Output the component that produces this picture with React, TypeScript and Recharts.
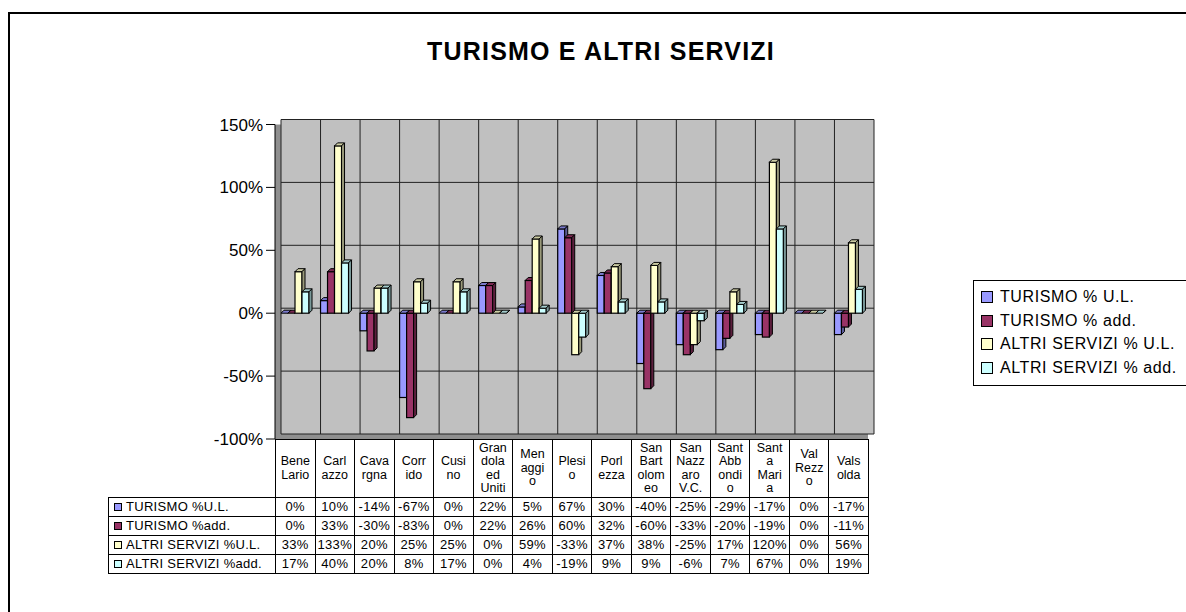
import { BarChart, Bar, XAxis, YAxis, CartesianGrid } from 'recharts';

const categories = [
  'Bene Lario', 'Carlazzo', 'Cavargna', 'Corrido', 'Cusino', 'Grandola ed Uniti', 'Menaggio', 'Plesio',
  'Porlezza', 'San Bartolomeo', 'San Nazzaro V.C.', 'Sant Abbondio', 'Santa Maria', 'Val Rezzo', 'Valsolda',
];
// category names as Excel wraps them in the data table header
const headerLines = [
  ['Bene', 'Lario'], ['Carl', 'azzo'], ['Cava', 'rgna'], ['Corr', 'ido'], ['Cusi', 'no'],
  ['Gran', 'dola', 'ed', 'Uniti'], ['Men', 'aggi', 'o'], ['Plesi', 'o'], ['Porl', 'ezza'],
  ['San', 'Bart', 'olom', 'eo'], ['San', 'Nazz', 'aro', 'V.C.'], ['Sant', 'Abb', 'ondi', 'o'],
  ['Sant', 'a', 'Mari', 'a'], ['Val', 'Rezz', 'o'], ['Vals', 'olda'],
];

const turismoUL = [0, 10, -14, -67, 0, 22, 5, 67, 30, -40, -25, -29, -17, 0, -17];
const turismoAdd = [0, 33, -30, -83, 0, 22, 26, 60, 32, -60, -33, -20, -19, 0, -11];
const altriUL = [33, 133, 20, 25, 25, 0, 59, -33, 37, 38, -25, 17, 120, 0, 56];
const altriAdd = [17, 40, 20, 8, 17, 0, 4, -19, 9, 9, -6, 7, 67, 0, 19];

const legendNames = ['TURISMO % U.L.', 'TURISMO % add.', 'ALTRI SERVIZI % U.L.', 'ALTRI SERVIZI % add.'];
const tableNames = ['TURISMO %U.L.', 'TURISMO %add.', 'ALTRI SERVIZI %U.L.', 'ALTRI SERVIZI %add.'];
const seriesKeys = ['tUL', 'tAdd', 'aUL', 'aAdd'];
const seriesValues = [turismoUL, turismoAdd, altriUL, altriAdd];
const colors = ['#9999FF', '#993366', '#FFFFCC', '#CCFFFF'];

const yTicks = [-100, -50, 0, 50, 100, 150];

const data = categories.map((name, i) => ({
  name,
  tUL: turismoUL[i],
  tAdd: turismoAdd[i],
  aUL: altriUL[i],
  aAdd: altriAdd[i],
}));

const font = "Arial, 'Liberation Sans', sans-serif";
const W = 1186;
const H = 612;
const plotLeft = 275;
const plotRight = 868;
const plotTop = 124.5;
const plotBottom = 439;
const depthX = 6;
const depthY = 5;
const colW = (plotRight - plotLeft) / categories.length;
const headH = 57;
const rowH = 19;

const shade = (hex: string, k: number) => {
  const n = parseInt(hex.slice(1), 16);
  const r = Math.round(((n >> 16) & 255) * k);
  const g = Math.round(((n >> 8) & 255) * k);
  const b = Math.round((n & 255) * k);
  return `rgb(${r},${g},${b})`;
};

const Bar3D = (props: any) => {
  const { x, y, width, height, fill } = props;
  if (x == null || y == null) return null;
  const d = 3;
  const top = height < 0 ? y + height : y;
  const h = Math.abs(height || 0);
  return (
    <g>
      <rect x={x} y={top} width={width} height={h} fill={fill} stroke="#000" strokeWidth={1.2} />
      <polygon
        points={`${x},${top} ${x + d},${top - d} ${x + width + d},${top - d} ${x + width},${top}`}
        fill={shade(fill, 0.8)} stroke="#000" strokeWidth={1}
      />
      <polygon
        points={`${x + width},${top} ${x + width + d},${top - d} ${x + width + d},${top + h - d} ${x + width},${top + h}`}
        fill={shade(fill, 0.6)} stroke="#000" strokeWidth={1}
      />
    </g>
  );
};

const yPos = (t: number) => plotTop + ((150 - t) / 250) * (plotBottom - plotTop);
const wallH = yTicks.map(t => yPos(t) - depthY);
const wallV = categories.map((_, i) => plotLeft + i * colW + depthX).concat(plotRight + depthX);

const cell = {
  border: '1px solid #000', padding: 0, textAlign: 'center' as const, fontSize: 13,
  letterSpacing: 0.3, whiteSpace: 'nowrap' as const, lineHeight: `${rowH - 1}px`,
};

export default function App() {
  return (
    <div style={{ position: 'absolute', left: 0, top: 0, width: W, height: H, background: '#fff', fontFamily: font, overflow: 'hidden' }}>
      <div style={{ position: 'absolute', left: 8, top: 12, width: W, height: H, border: '2px solid #000' }} />
      <div style={{ position: 'absolute', left: 0, width: 1202, top: 36, textAlign: 'center', fontSize: 25, letterSpacing: 1.2, fontWeight: 'bold', lineHeight: '30px' }}>
        TURISMO E ALTRI SERVIZI
      </div>

      <div style={{ position: 'absolute', left: 0, top: 0 }}>
        <BarChart
          width={W}
          height={H}
          data={data}
          margin={{ top: plotTop, bottom: H - plotBottom, left: plotLeft - 80, right: W - plotRight }}
          barGap={0}
          barSize={7}
        >
          <CartesianGrid horizontal={false} vertical={false} fill="#8f8f8f" stroke="none" />
          <CartesianGrid
            x={plotLeft + depthX}
            y={plotTop - depthY}
            width={plotRight - plotLeft}
            height={plotBottom - plotTop}
            fill="#C0C0C0"
            stroke="#222"
            horizontalPoints={wallH}
            verticalPoints={wallV}
          />
          <XAxis dataKey="name" hide />
          <YAxis
            width={80}
            domain={[-100, 150]}
            ticks={yTicks}
            interval={0}
            tickFormatter={(v: number) => `${v}%`}
            tick={{ fontSize: 17, fill: '#000', fontFamily: font }}
            tickSize={9}
            tickMargin={3}
            axisLine={{ stroke: '#000' }}
            tickLine={{ stroke: '#000' }}
          />
          {seriesKeys.map((k, i) => (
            <Bar key={k} dataKey={k} fill={colors[i]} shape={Bar3D} isAnimationActive={false} />
          ))}
        </BarChart>
      </div>

      {/* data table under the plot */}
      <table
        style={{
          position: 'absolute', left: 108, top: plotBottom, borderCollapse: 'collapse', tableLayout: 'fixed',
          width: plotRight - 108, fontFamily: font,
        }}
      >
        <colgroup>
          <col style={{ width: plotLeft - 108 }} />
          {categories.map(c => <col key={c} style={{ width: colW }} />)}
        </colgroup>
        <tbody>
          <tr style={{ height: headH }}>
            <td style={{ border: 'none', padding: 0 }} />
            {headerLines.map((lines, i) => (
              <td key={i} style={{ ...cell, height: headH, verticalAlign: 'middle', fontSize: 12.5, letterSpacing: 0 }}>
                <div style={{ height: headH - 1, display: 'flex', flexDirection: 'column', justifyContent: 'center', lineHeight: '13.5px' }}>
                  {lines.map((l, j) => <div key={j}>{l}</div>)}
                </div>
              </td>
            ))}
          </tr>
          {seriesValues.map((vals, s) => (
            <tr key={s} style={{ height: rowH }}>
              <td style={{ ...cell, textAlign: 'left', paddingLeft: 5 }}>
                <span style={{ display: 'inline-block', width: 6, height: 6, background: colors[s], border: '1px solid #000', marginRight: 4, verticalAlign: 'middle', position: 'relative', top: -1 }} />
                {tableNames[s]}
              </td>
              {vals.map((v, i) => <td key={i} style={cell}>{v}%</td>)}
            </tr>
          ))}
        </tbody>
      </table>

      {/* legend */}
      <div style={{ position: 'absolute', left: 973, top: 280, width: 240, height: 104, border: '1px solid #000', fontSize: 16, letterSpacing: 0.6 }}>
        {legendNames.map((n, i) => (
          <div key={n} style={{ position: 'absolute', left: 7, top: 6 + i * 23.5, height: 20, display: 'flex', alignItems: 'center', whiteSpace: 'nowrap' }}>
            <span style={{ display: 'inline-block', width: 10, height: 10, background: colors[i], border: '1px solid #000', marginRight: 7 }} />
            {n}
          </div>
        ))}
      </div>
    </div>
  );
}
